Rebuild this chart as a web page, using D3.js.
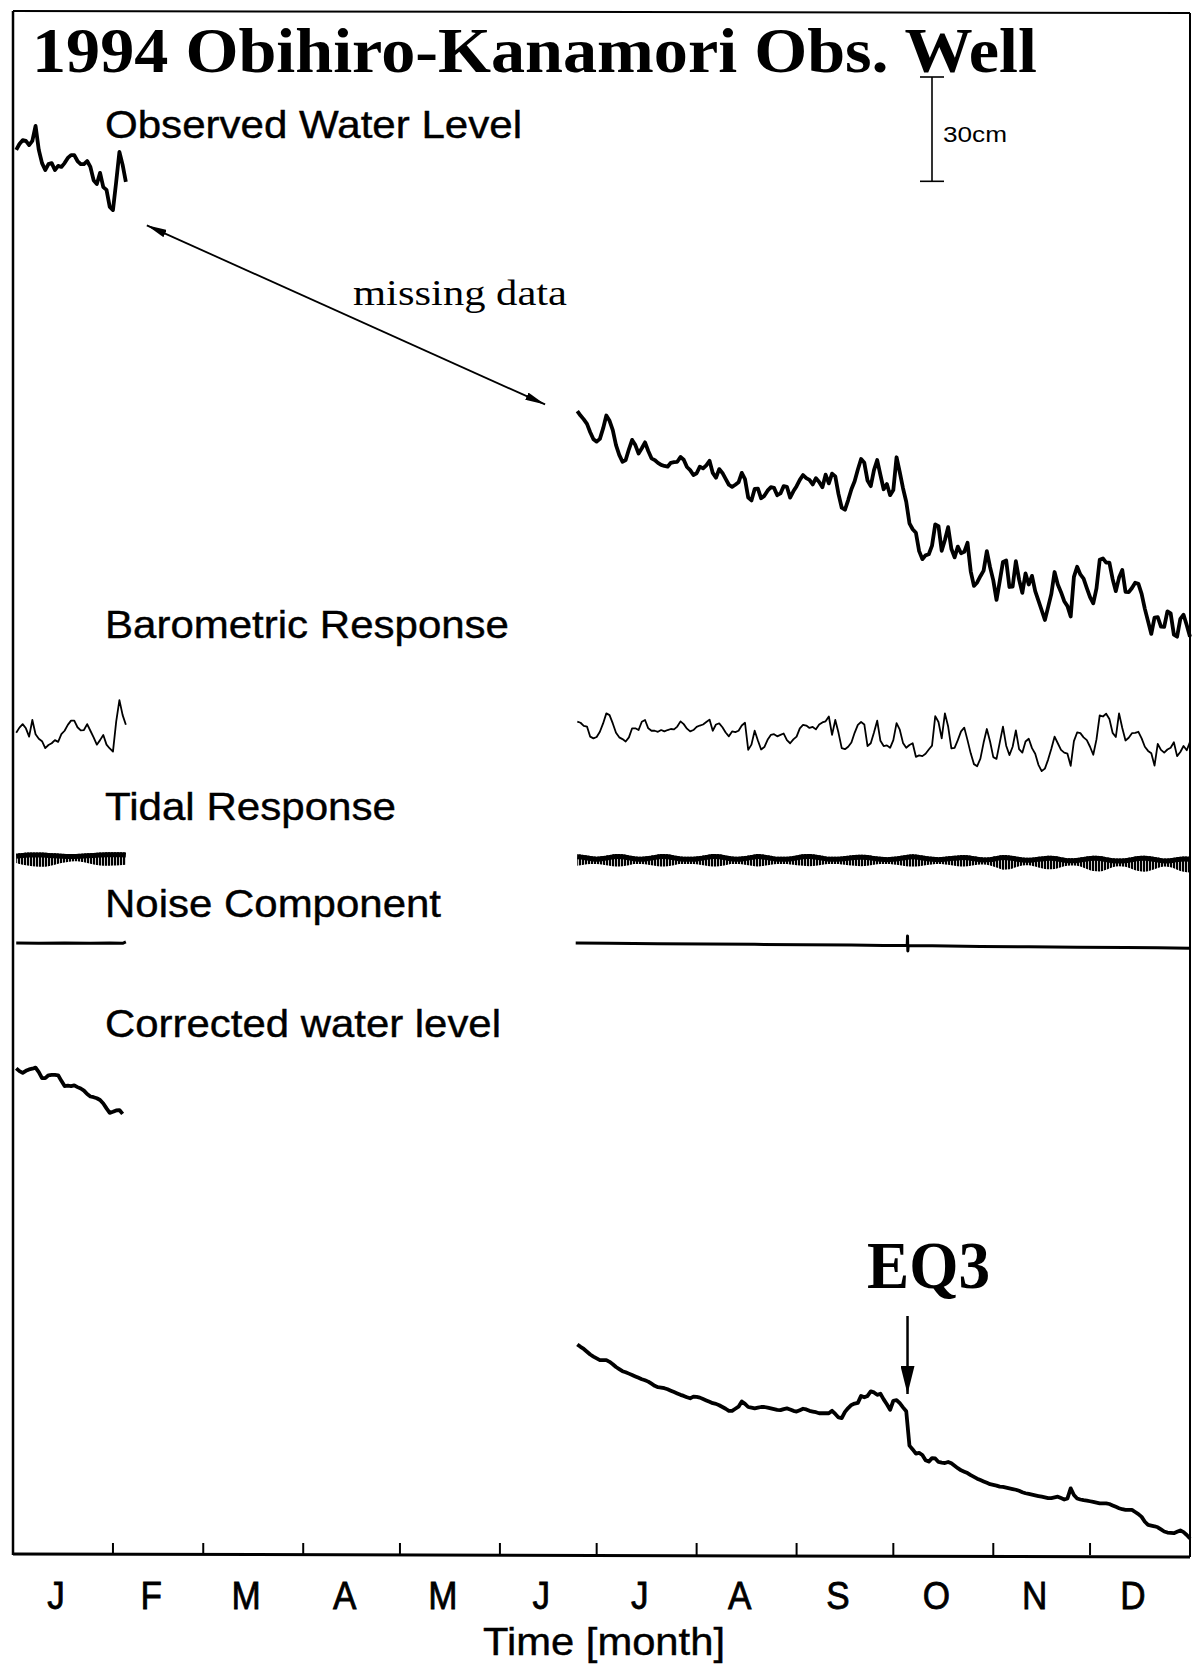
<!DOCTYPE html>
<html>
<head>
<meta charset="utf-8">
<script src="https://cdn.jsdelivr.net/npm/d3@7"></script>
<style>
  body { margin: 0; background: #fff; }
  text { fill: #000; }
</style>
</head>
<body>
<svg width="1193" height="1669"></svg>
<script>
// ---- data (days of year 1994, levels in cm) ----
var months = ["J", "F", "M", "A", "M", "J", "J", "A", "S", "O", "N", "D"];
var monthStarts = [0, 31, 59, 90, 120, 151, 181, 212, 243, 273, 304, 334, 365];

// daily series: first chunk starts day 1, second chunk starts day 175
var janStart = 1, summerStart = 175;

var observedJan = [-4.0,-2.3,-1.2,-1.4,-2.6,-1.4,2.9,-4.0,-7.8,-9.8,-8.1,-7.8,-9.8,-8.6,-8.9,-7.8,-6.3,-5.5,-5.5,-7.2,
  -8.1,-8.1,-7.2,-8.9,-12.7,-13.8,-10.6,-14.7,-15.5,-20.4,-21.3,-13.2,-4.6,-8.3,-13.2];
var observedSummer = [
  -79.1,-80.4,-81.5,-82.8,-85.2,-87.2,-87.9,-87.1,-84.1,-80.4,
  -81.9,-84.6,-88.9,-91.7,-93.7,-93.2,-90.1,-87.4,-88.9,-91.3,
  -89.8,-88.1,-90.6,-92.7,-93.2,-94.0,-94.6,-94.9,-95.1,-94.0,
  -93.8,-93.7,-92.3,-93.1,-95.2,-96.1,-97.5,-97.0,-95.1,-95.6,
  -94.7,-93.4,-96.9,-98.3,-95.8,-96.9,-98.6,-100.3,-100.9,-100.3,
  -99.6,-96.9,-98.7,-104.0,-104.8,-101.5,-101.4,-104.2,-103.5,-102.0,
  -101.0,-101.2,-103.3,-102.8,-100.7,-100.9,-104.0,-102.2,-100.7,-98.9,
  -97.5,-98.4,-98.9,-100.2,-98.4,-99.5,-101.0,-97.4,-99.9,-97.1,
  -97.9,-103.0,-106.9,-107.5,-104.7,-101.6,-99.3,-95.9,-92.9,-94.0,
  -99.1,-100.7,-96.1,-93.2,-97.5,-101.6,-100.1,-103.3,-101.8,-92.4,
  -96.7,-101.3,-105.2,-111.4,-113.1,-114.1,-119.4,-121.7,-120.6,-120.3,
  -117.8,-111.7,-112.2,-119.3,-116.2,-112.5,-118.7,-121.2,-118.1,-120.0,
  -119.6,-117.0,-125.2,-129.4,-128.4,-126.6,-125.0,-119.4,-124.0,-127.8,
  -133.4,-128.0,-122.5,-122.1,-129.7,-129.6,-122.3,-127.6,-131.4,-125.8,
  -129.0,-126.5,-130.9,-133.6,-136.4,-139.2,-135.5,-131.7,-125.4,-129.0,
  -131.2,-133.8,-135.2,-138.2,-126.8,-123.9,-126.1,-127.3,-130.0,-132.6,
  -134.4,-130.1,-121.9,-121.5,-122.7,-122.7,-127.4,-130.9,-127.0,-124.8,
  -131.1,-131.2,-130.0,-128.5,-128.8,-131.7,-136.0,-139.6,-143.2,-138.5,
  -138.4,-141.1,-141.2,-136.7,-137.3,-143.4,-144.0,-138.9,-137.7,-140.7,
  -144.0];

var baroJan = [1.2,2.7,3.7,2.5,0.1,4.9,0.8,-0.5,-1.2,-3.2,-2.3,-1.8,-0.9,-1.4,0.8,1.8,3.5,4.7,4.7,2.8,
  1.9,2.0,3.7,1.8,-0.1,-2.2,-0.9,0.6,-2.2,-3.3,-4.2,4.4,10.6,6.3,3.5];
var baroSummer = [
  4.4,4.1,3.2,3.0,0.1,-0.4,0.0,1.5,3.9,6.8,
  6.3,3.9,1.2,-0.1,-0.6,-1.3,-0.1,2.5,2.5,2.0,
  4.4,4.9,2.5,1.8,1.8,1.5,2.0,1.6,2.0,2.3,
  2.2,3.0,4.5,3.7,2.4,1.6,2.0,2.9,3.3,3.6,
  4.3,5.0,1.8,3.6,3.9,2.8,1.3,0.2,1.6,1.4,
  1.8,3.3,4.1,-3.7,-2.2,1.8,-1.0,-3.6,-2.9,-0.8,
  0.6,0.8,0.2,0.6,1.0,-0.9,-1.8,-0.7,0.1,2.5,
  3.5,3.3,2.6,2.9,2.2,3.6,4.2,4.5,5.9,0.6,
  4.9,1.2,-3.2,-3.5,-2.8,-1.6,1.2,3.5,4.3,3.6,
  -2.6,-1.8,1.3,4.7,-1.1,-2.6,-2.4,-3.1,-0.9,4.0,
  2.1,-1.7,-3.1,-2.3,-1.8,-5.7,-5.3,-5.5,-4.8,-3.6,
  -2.5,6.0,4.3,-0.4,6.8,3.0,-3.3,-3.1,-0.9,1.6,
  2.7,-0.9,-4.7,-7.8,-8.4,-6.2,-1.6,2.3,-1.3,-5.8,
  -6.3,-1.6,3.0,-2.5,-5.2,-2.8,1.9,-3.5,-4.5,-1.3,
  -0.5,-3.2,-4.8,-8.0,-9.8,-9.1,-6.5,-3.4,0.1,-1.8,
  -3.7,-4.5,-4.8,-8.3,-1.2,1.3,1.1,-0.1,-0.9,-2.8,
  -5.1,-0.7,6.2,5.9,6.7,5.2,1.2,0.0,6.8,2.6,
  -1.0,-0.2,1.1,1.2,1.5,-0.4,-2.8,-4.0,-4.7,-8.2,
  -2.0,-3.7,-4.5,-3.6,-3.1,-1.5,-5.5,-4.3,-2.6,-3.8,
  -1.4];

// tidal response envelope, sampled every 2 days
var tideHighJan = [2.4,2.6,2.7,2.7,2.7,2.6,2.5,2.4,2.3,2.3,2.4,2.5,2.6,2.7,2.8,2.8,2.8,2.7];
var tideLowJan = [-0.3,-0.8,-1.1,-1.3,-1.4,-1.2,-0.8,-0.3,0.0,0.2,0.1,-0.3,-0.7,-1.0,-1.1,-1.0,-0.9,-0.8];
var tideHighSummer = [
  2.2,2.0,1.7,1.5,1.7,2.0,2.3,2.2,1.9,1.6,
  1.5,1.7,2.0,2.3,2.2,1.9,1.6,1.5,1.5,1.7,
  2.0,2.3,2.2,1.9,1.6,1.5,1.7,2.0,2.3,2.1,
  1.8,1.5,1.5,1.6,1.9,2.2,2.3,2.1,1.8,1.5,
  1.5,1.6,1.8,2.0,2.1,2.0,1.7,1.5,1.4,1.5,
  1.7,2.0,2.2,2.0,1.7,1.5,1.4,1.5,1.7,1.9,
  2.0,1.8,1.5,1.3,1.4,1.7,2.0,1.9,1.6,1.3,
  1.2,1.4,1.6,1.8,1.7,1.4,1.1,1.1,1.3,1.6,
  1.8,1.7,1.4,1.1,1.0,1.1,1.4,1.7,1.8,1.6,
  1.3,1.0,1.1,1.4,1.6,1.5];
var tideLowSummer = [
  -1.1,-0.8,-0.6,-0.6,-0.8,-1.1,-1.3,-1.2,-0.9,-0.6,
  -0.6,-0.8,-1.1,-1.3,-1.2,-0.9,-0.6,-0.6,-0.6,-0.8,
  -1.1,-1.3,-1.2,-0.9,-0.6,-0.6,-0.8,-1.1,-1.3,-1.1,
  -0.8,-0.6,-0.6,-0.7,-0.9,-1.1,-1.2,-1.1,-0.8,-0.6,
  -0.6,-0.7,-0.9,-1.1,-1.2,-1.1,-0.8,-0.6,-0.6,-0.7,
  -0.9,-1.2,-1.3,-1.2,-0.9,-0.7,-0.6,-0.7,-0.9,-1.2,
  -1.3,-1.1,-0.8,-0.7,-1.0,-1.6,-2.2,-2.1,-1.5,-1.0,
  -0.9,-1.3,-1.8,-2.1,-2.0,-1.5,-1.1,-1.0,-1.3,-2.0,
  -2.6,-2.7,-2.2,-1.5,-1.2,-1.4,-2.0,-2.6,-2.8,-2.4,
  -1.7,-1.3,-1.5,-2.2,-2.8,-3.0];

var noiseDaysJan = [1, 8, 16, 24, 30, 34, 35];
var noiseJan = [0.3, 0.2, 0.3, 0.2, 0.3, 0.2, 0.6];
var noiseDaysSummer = [174.5, 185, 200, 215, 230, 245, 260, 270, 277.3, 277.4, 277.5, 277.6, 285, 300, 315, 330, 345, 355, 365];
var noiseSummer = [0.3, 0.2, 0.1, 0.0, -0.1, -0.2, -0.3, -0.4, -0.4, 2.3, -2.0, -0.4, -0.5, -0.7, -0.8, -0.9, -1.0, -1.1, -1.2];

var correctedJan = [-0.1,-0.9,-1.4,-0.8,-0.4,-0.2,0.1,-1.2,-2.9,-2.9,-2.1,-2.0,-2.0,-2.1,-3.7,-5.2,-5.1,-5.2,-5.0,-5.5,
  -5.9,-6.5,-7.5,-8.2,-8.4,-8.7,-9.2,-10.2,-11.6,-12.9,-12.6,-12.2,-12.1,-13.2];
var correctedSummer = [
  -79.5,-80.2,-80.8,-81.6,-82.4,-83.0,-83.5,-84.0,-84.0,-84.0,
  -84.5,-85.2,-86.0,-86.6,-87.2,-87.5,-87.9,-88.3,-88.7,-89.1,
  -89.5,-89.8,-90.2,-90.8,-91.4,-91.8,-91.9,-92.1,-92.4,-92.8,
  -93.2,-93.6,-94.0,-94.3,-94.7,-95.0,-94.5,-94.6,-94.8,-95.2,
  -95.6,-96.0,-96.4,-96.6,-97.0,-97.5,-98.0,-98.6,-98.6,-98.0,
  -97.4,-95.9,-96.6,-97.5,-97.7,-97.9,-97.7,-97.5,-97.5,-97.7,
  -97.9,-98.1,-98.3,-98.4,-98.1,-97.9,-98.2,-98.6,-98.8,-98.4,
  -98.0,-98.2,-98.6,-98.8,-99.0,-99.3,-99.3,-99.3,-99.3,-98.6,
  -99.5,-100.5,-100.7,-98.9,-97.8,-96.9,-96.5,-96.3,-94.3,-94.7,
  -94.3,-93.0,-93.3,-94.0,-93.7,-95.3,-96.7,-98.3,-95.7,-95.5,
  -96.4,-97.6,-98.7,-108.6,-109.7,-110.9,-110.7,-111.3,-112.8,-113.2,
  -112.2,-112.3,-113.3,-113.5,-113.6,-113.3,-113.7,-114.4,-115.1,-115.7,
  -116.1,-116.5,-117.1,-117.6,-118.1,-118.5,-118.9,-119.3,-119.7,-119.9,
  -120.1,-120.4,-120.5,-120.7,-120.9,-121.1,-121.3,-121.6,-122.0,-122.3,
  -122.5,-122.7,-122.9,-123.1,-123.3,-123.5,-123.7,-123.7,-123.5,-123.3,
  -123.7,-124.1,-123.8,-120.9,-122.8,-123.8,-124.1,-124.3,-124.4,-124.6,
  -124.8,-125.0,-125.2,-125.2,-125.2,-125.4,-125.8,-126.2,-126.6,-126.9,
  -127.1,-127.1,-127.1,-127.7,-128.3,-129.1,-130.5,-131.4,-131.6,-131.8,
  -132.1,-132.7,-133.3,-133.6,-133.7,-133.8,-133.4,-133.0,-133.5,-134.3,
  -135.3];

var eqDay = 277.4;
var scaleBarCm = 30;

// ---- layout ----
var svg = d3.select("svg"),
  width = +svg.attr("width"),
  height = +svg.attr("height");

var frameL = 13, frameR = 1190, frameT = 11, frameB = 1555;
var cmPx = 3.477;

var x = d3.scaleLinear().domain([0, 365]).range([frameL, frameR]);

// each trace gets its own vertical offset, same cm scale
function panelScale(base) {
  return d3.scaleLinear().domain([0, scaleBarCm]).range([base, base - scaleBarCm * cmPx]);
}
var yObs = panelScale(136),
  yBaro = panelScale(737),
  yTide = panelScale(862),
  yNoise = panelScale(944),
  yCorr = panelScale(1068);

function daily(start, step, vals) {
  return vals.map(function (v, i) { return [start + i * step, v]; });
}
function paired(days, vals) {
  return vals.map(function (v, i) { return [days[i], v]; });
}

var defs = svg.append("defs");
var pat = defs.append("pattern")
  .attr("id", "hatch")
  .attr("patternUnits", "userSpaceOnUse")
  .attr("width", 3).attr("height", 10);
pat.append("rect").attr("width", 2.2).attr("height", 10).attr("fill", "#000");

defs.append("marker")
  .attr("id", "head")
  .attr("viewBox", "0 0 20 8")
  .attr("refX", 20).attr("refY", 4)
  .attr("markerWidth", 20).attr("markerHeight", 8)
  .attr("markerUnits", "userSpaceOnUse")
  .attr("orient", "auto-start-reverse")
  .append("path")
  .attr("d", "M0,0 L20,4 L0,8 Z")
  .attr("fill", "#000");

defs.append("marker")
  .attr("id", "eqhead")
  .attr("viewBox", "0 0 28 14")
  .attr("refX", 28).attr("refY", 7)
  .attr("markerWidth", 28).attr("markerHeight", 14)
  .attr("markerUnits", "userSpaceOnUse")
  .attr("orient", "auto")
  .append("path")
  .attr("d", "M0,0 L28,7 L0,14 Z")
  .attr("fill", "#000");

// frame
var frame = svg.append("g").attr("stroke", "#000").attr("fill", "none");
frame.append("line").attr("x1", frameL).attr("x2", frameL).attr("y1", frameT).attr("y2", frameB).attr("stroke-width", 2.5);
frame.append("line").attr("x1", frameL).attr("x2", frameR).attr("y1", frameT).attr("y2", frameT + 2).attr("stroke-width", 2);
frame.append("line").attr("x1", frameR).attr("x2", frameR).attr("y1", frameT + 2).attr("y2", frameB + 2).attr("stroke-width", 2);
frame.append("line").attr("x1", frameL).attr("x2", frameR).attr("y1", frameB - 1).attr("y2", frameB + 2).attr("stroke-width", 3);

// month ticks
svg.append("g")
  .selectAll("line")
  .data(monthStarts.slice(1, 12))
  .enter()
  .append("line")
  .attr("x1", function (d) { return x(d); })
  .attr("x2", function (d) { return x(d); })
  .attr("y1", frameB)
  .attr("y2", frameB - 12)
  .attr("stroke", "#000")
  .attr("stroke-width", 2);

// month labels (slightly condensed, like the scanned Helvetica)
svg.append("g")
  .selectAll("text")
  .data(months)
  .enter()
  .append("text")
  .attr("transform", function (d, i) {
    return "translate(" + (x((monthStarts[i] + monthStarts[i + 1]) / 2) - 7) + ",1609) scale(0.9,1)";
  })
  .attr("text-anchor", "middle")
  .style("font-family", "'Liberation Sans', Arial, sans-serif")
  .style("font-size", "39px")
  .style("stroke", "#000")
  .style("stroke-width", "0.8px")
  .text(function (d) { return d; });

svg.append("text")
  .attr("x", 604).attr("y", 1655)
  .attr("text-anchor", "middle")
  .attr("textLength", 242).attr("lengthAdjust", "spacingAndGlyphs")
  .style("font-family", "'Liberation Sans', Arial, sans-serif")
  .style("font-size", "38px")
  .style("stroke", "#000").style("stroke-width", "0.4px")
  .text("Time [month]");

// traces
function drawLine(data, yScale, sw) {
  var line = d3.line()
    .x(function (d) { return x(d[0]); })
    .y(function (d) { return yScale(d[1]); });
  svg.append("path")
    .datum(data)
    .attr("d", line)
    .attr("fill", "none")
    .attr("stroke", "#000")
    .attr("stroke-width", sw)
    .attr("stroke-linejoin", "round");
}

drawLine(daily(janStart, 1, observedJan), yObs, 3.8);
drawLine(daily(summerStart, 1, observedSummer), yObs, 3.8);

drawLine(daily(janStart, 1, baroJan), yBaro, 1.8);
drawLine(daily(summerStart, 1, baroSummer), yBaro, 1.8);

function drawTide(start, high, low) {
  var data = high.map(function (h, i) { return [start + i * 2, h, low[i]]; });
  var area = d3.area()
    .x(function (d) { return x(d[0]); })
    .y0(function (d) { return yTide(d[2]); })
    .y1(function (d) { return yTide(d[1]); })
    .curve(d3.curveMonotoneX);
  svg.append("path").datum(data).attr("d", area).attr("fill", "url(#hatch)");
  var upper = d3.line()
    .x(function (d) { return x(d[0]); })
    .y(function (d) { return yTide(d[1]) + 2.5; })
    .curve(d3.curveMonotoneX);
  svg.append("path").datum(data).attr("d", upper)
    .attr("fill", "none").attr("stroke", "#000").attr("stroke-width", 5);
}
drawTide(janStart, tideHighJan, tideLowJan);
drawTide(summerStart, tideHighSummer, tideLowSummer);

drawLine(paired(noiseDaysJan, noiseJan), yNoise, 3);
drawLine(paired(noiseDaysSummer, noiseSummer), yNoise, 3);

drawLine(daily(janStart, 1, correctedJan), yCorr, 3.8);
drawLine(daily(summerStart, 1, correctedSummer), yCorr, 3.8);

// panel labels
var labels = [
  { t: "Observed Water Level", y: 138, w: 417 },
  { t: "Barometric Response", y: 638, w: 404 },
  { t: "Tidal Response", y: 820, w: 291 },
  { t: "Noise Component", y: 917, w: 336 },
  { t: "Corrected water level", y: 1037, w: 396 }
];
svg.append("g")
  .selectAll("text")
  .data(labels)
  .enter()
  .append("text")
  .attr("x", 105)
  .attr("y", function (d) { return d.y; })
  .attr("textLength", function (d) { return d.w; })
  .attr("lengthAdjust", "spacingAndGlyphs")
  .style("font-family", "'Liberation Sans', Arial, sans-serif")
  .style("font-size", "38px")
  .style("stroke", "#000")
  .style("stroke-width", "0.4px")
  .text(function (d) { return d.t; });

// title
svg.append("text")
  .attr("x", 32).attr("y", 72)
  .attr("textLength", 1005).attr("lengthAdjust", "spacingAndGlyphs")
  .style("font-family", "'Liberation Serif', 'Times New Roman', serif")
  .style("font-weight", "bold")
  .style("font-size", "64px")
  .text("1994 Obihiro-Kanamori Obs. Well");

// 30 cm scale bar
var barX = 932, barTop = 77;
var yBar = panelScale(barTop + scaleBarCm * cmPx);
var bar = svg.append("g").attr("stroke", "#000").attr("stroke-width", 1.6);
bar.append("line").attr("x1", barX).attr("x2", barX).attr("y1", yBar(0)).attr("y2", yBar(scaleBarCm));
bar.append("line").attr("x1", barX - 12).attr("x2", barX + 12).attr("y1", yBar(0)).attr("y2", yBar(0));
bar.append("line").attr("x1", barX - 12).attr("x2", barX + 12).attr("y1", yBar(scaleBarCm)).attr("y2", yBar(scaleBarCm));
svg.append("text")
  .attr("x", 943).attr("y", 142)
  .attr("textLength", 64).attr("lengthAdjust", "spacingAndGlyphs")
  .style("font-family", "'Liberation Sans', Arial, sans-serif")
  .style("font-size", "22px")
  .text("30cm");

// missing data arrow
svg.append("line")
  .attr("x1", x(41.5)).attr("y1", yObs(-25.7))
  .attr("x2", x(165)).attr("y2", yObs(-77.2))
  .attr("stroke", "#000").attr("stroke-width", 1.8)
  .attr("marker-start", "url(#head)")
  .attr("marker-end", "url(#head)");
svg.append("text")
  .attr("x", 353).attr("y", 305)
  .attr("textLength", 214).attr("lengthAdjust", "spacingAndGlyphs")
  .style("font-family", "'Liberation Serif', 'Times New Roman', serif")
  .style("font-size", "35px")
  .text("missing data");

// EQ3 marker
svg.append("text")
  .attr("x", 867).attr("y", 1288)
  .attr("textLength", 123).attr("lengthAdjust", "spacingAndGlyphs")
  .style("font-family", "'Liberation Serif', 'Times New Roman', serif")
  .style("font-weight", "bold")
  .style("font-size", "68px")
  .text("EQ3");
svg.append("line")
  .attr("x1", x(eqDay)).attr("x2", x(eqDay))
  .attr("y1", 1316).attr("y2", 1394)
  .attr("stroke", "#000").attr("stroke-width", 2.5)
  .attr("marker-end", "url(#eqhead)");
</script>
</body>
</html>
